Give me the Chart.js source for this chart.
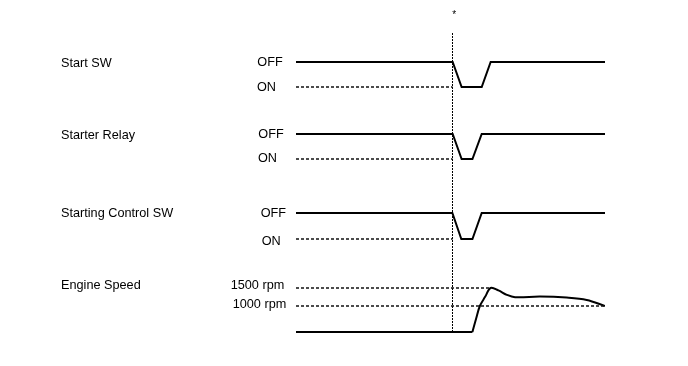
<!DOCTYPE html>
<html>
<head>
<meta charset="utf-8">
<script src="https://cdn.jsdelivr.net/npm/chart.js@4"></script>
<style>
  html, body { margin: 0; padding: 0; background: #fff; }
  canvas { display: block; }
</style>
</head>
<body>
<canvas id="timingChart" width="688" height="366"></canvas>
<script>
// time axis: 0..100 across the trace area
const startSwTime = [0, 50.7, 53.6, 60.1, 63.0, 100];
const startSwState = [1, 1, 0, 0, 1, 1]; // 1 = OFF, 0 = ON
const relayTime = [0, 50.7, 53.6, 57.1, 60.1, 100];
const relayState = [1, 1, 0, 0, 1, 1];
const controlTime = [0, 50.6, 53.5, 57.1, 60.1, 100];
const controlState = [1, 1, 0, 0, 1, 1];
const engineTime = [0, 57.1, 58.3, 59.5, 61.2, 63.0, 65.5, 68.2, 70.9, 79.0, 87.6, 94.1, 100];
const engineRpm = [0, 0, 521, 1000, 1254, 1500, 1432, 1311, 1246, 1263, 1234, 1169, 1000];
const rpmTicks = [1000, 1500];
const rpmTickLabels = ["1000 rpm", "1500 rpm"];
const signalNames = ["Start SW", "Starter Relay", "Starting Control SW", "Engine Speed"];
const stateLabels = ["OFF", "ON"];
const markerTime = 50.65;
const markerLabel = "*";

document.addEventListener("DOMContentLoaded", function () {
    // lane layout (vertical units, 0 at top)
    const lanes = [
        { off: 62, on: 87 },
        { off: 134, on: 159 },
        { off: 213, on: 239 }
    ];
    const rpmRef = [0, 1000, 1500];
    const rpmLevel = [332, 306, 288];
    function engineLevel(rpm) {
        for (let i = 1; i < rpmRef.length; i++) {
            if (rpm <= rpmRef[i] || i === rpmRef.length - 1) {
                const f = (rpm - rpmRef[i - 1]) / (rpmRef[i] - rpmRef[i - 1]);
                return rpmLevel[i - 1] + f * (rpmLevel[i] - rpmLevel[i - 1]);
            }
        }
    }
    function switchPoints(times, states, lane) {
        return times.map((t, i) => ({ x: t, y: states[i] ? lane.off : lane.on }));
    }

    const solid = { borderColor: "#000", borderWidth: 2, pointRadius: 0, tension: 0, fill: false };
    const dashed = { borderColor: "#111", borderWidth: 1.5, borderDash: [3, 2], pointRadius: 0, fill: false };

    const peakIdx = engineRpm.indexOf(Math.max(...engineRpm));
    const datasets = [
        // reference (ON / rpm) dashed lines
        Object.assign({ data: [{ x: 0, y: lanes[0].on }, { x: markerTime, y: lanes[0].on }] }, dashed),
        Object.assign({ data: [{ x: 0, y: lanes[1].on }, { x: markerTime, y: lanes[1].on }] }, dashed),
        Object.assign({ data: [{ x: 0, y: lanes[2].on }, { x: markerTime, y: lanes[2].on }] }, dashed),
        Object.assign({ data: [{ x: 0, y: engineLevel(rpmTicks[1]) }, { x: engineTime[peakIdx], y: engineLevel(rpmTicks[1]) }] }, dashed),
        Object.assign({ data: [{ x: 0, y: engineLevel(rpmTicks[0]) }, { x: 100, y: engineLevel(rpmTicks[0]) }] }, dashed),
        // marker
        { data: [{ x: markerTime, y: 33 }, { x: markerTime, y: 333 }], borderColor: "#000", borderWidth: 1, borderDash: [2, 1], pointRadius: 0 },
        // signals
        Object.assign({ data: switchPoints(startSwTime, startSwState, lanes[0]) }, solid),
        Object.assign({ data: switchPoints(relayTime, relayState, lanes[1]) }, solid),
        Object.assign({ data: switchPoints(controlTime, controlState, lanes[2]) }, solid),
        Object.assign({ data: engineTime.slice(0, 2).map((t, i) => ({ x: t, y: engineLevel(engineRpm[i]) })) }, solid),
        Object.assign({
            data: engineTime.slice(1).map((t, i) => ({ x: t, y: engineLevel(engineRpm[i + 1]) })),
            tension: 0.35
        }, solid, { tension: 0.35 })
    ];

    // text labels
    const labelPlugin = {
        id: "timingLabels",
        afterDraw(chart) {
            const ctx = chart.ctx;
            const y = chart.scales.y;
            const x = chart.scales.x;
            const dy = 1.5;
            ctx.save();
            ctx.fillStyle = "#000";
            ctx.font = "12.7px 'Liberation Sans', Arial, sans-serif";
            ctx.textBaseline = "middle";
            ctx.textAlign = "left";
            const nameY = [61.5, 134, 211.5, 283.5];
            signalNames.forEach((n, i) => ctx.fillText(n, 61, y.getPixelForValue(nameY[i]) + dy));
            const offX = [257.3, 258.3, 260.7];
            const onX = [257, 258, 261.7];
            const offY = [60.7, 132.7, 211.7];
            const onY = [86, 156.7, 240];
            lanes.forEach((l, i) => {
                ctx.fillText(stateLabels[0], offX[i], y.getPixelForValue(offY[i]) + dy);
                ctx.fillText(stateLabels[1], onX[i], y.getPixelForValue(onY[i]) + dy);
            });
            ctx.fillText(rpmTickLabels[1], 230.7, y.getPixelForValue(284.3) + dy);
            ctx.fillText(rpmTickLabels[0], 232.7, y.getPixelForValue(303.3) + dy);
            ctx.font = "10px 'Liberation Sans', Arial, sans-serif";
            ctx.textAlign = "center";
            ctx.fillText(markerLabel, x.getPixelForValue(markerTime) + 1.8, y.getPixelForValue(15));
            ctx.restore();
        }
    };

    new Chart(document.getElementById("timingChart"), {
        type: "line",
        data: { datasets: datasets },
        options: {
            responsive: false,
            animation: false,
            devicePixelRatio: 1,
            layout: { padding: { left: 296, right: 83, top: 0, bottom: 0 } },
            scales: {
                x: { type: "linear", min: 0, max: 100, display: false },
                y: { type: "linear", min: 0, max: 366, reverse: true, display: false }
            },
            plugins: { legend: { display: false }, tooltip: { enabled: false } }
        },
        plugins: [labelPlugin]
    });
});
</script>
</body>
</html>
